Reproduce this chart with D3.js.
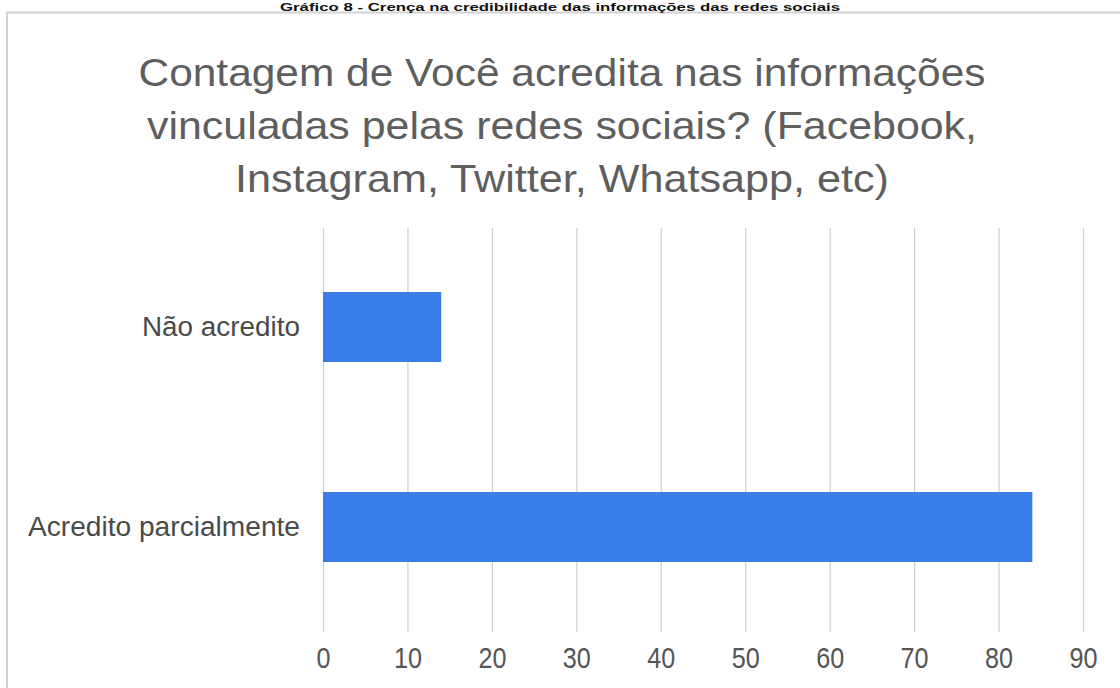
<!DOCTYPE html>
<html>
<head>
<meta charset="utf-8">
<script src="https://cdn.jsdelivr.net/npm/d3@7"></script>
<style>
  html, body { margin: 0; padding: 0; background: #ffffff; }
  svg { display: block; font-family: 'Liberation Sans', Arial, sans-serif; }
</style>
</head>
<body>
<svg id="chart"></svg>
<script>
(function() {
    'use strict';

    // Data
    const categories = ['Não acredito', 'Acredito parcialmente'];
    const counts = [14, 84];
    const tickValues = [0, 10, 20, 30, 40, 50, 60, 70, 80, 90];
    const caption = 'Gráfico 8 - Crença na credibilidade das informações das redes sociais';
    const titleLines = [
        'Contagem de Você acredita nas informações',
        'vinculadas pelas redes sociais? (Facebook,',
        'Instagram, Twitter, Whatsapp, etc)'
    ];

    const width = 1120, height = 688;
    const plot = { left: 323, right: 1083, top: 228, bottom: 632 };

    const svg = d3.select('#chart')
        .attr('width', width)
        .attr('height', height);

    // Chart frame
    svg.append('rect')
        .attr('x', 7)
        .attr('y', 12.5)
        .attr('width', width)
        .attr('height', height)
        .attr('fill', '#ffffff')
        .attr('stroke', '#d2d2d2')
        .attr('stroke-width', 2);

    // Caption above the frame
    svg.append('text')
        .attr('x', 560)
        .attr('y', 11)
        .attr('text-anchor', 'middle')
        .attr('font-size', '11px')
        .attr('font-weight', 'bold')
        .attr('fill', '#111')
        .attr('textLength', 560)
        .attr('lengthAdjust', 'spacingAndGlyphs')
        .text(caption);

    // Title
    const titleWidths = [847, 830, 654];
    svg.append('g')
        .selectAll('text')
        .data(titleLines)
        .join('text')
        .attr('x', 562)
        .attr('y', 86)
        .attr('dy', (d, i) => i * 53)
        .attr('text-anchor', 'middle')
        .attr('font-size', '39px')
        .attr('fill', '#5e5e5e')
        .attr('textLength', (d, i) => titleWidths[i])
        .attr('lengthAdjust', 'spacingAndGlyphs')
        .text(d => d);

    // Scales
    const xScale = d3.scaleLinear()
        .domain([0, 90])
        .range([plot.left, plot.right]);

    const yScale = d3.scaleBand()
        .domain(categories)
        .range([227, 627])
        .paddingInner(0.65)
        .paddingOuter(0.325);

    // X axis with gridlines
    const xAxis = svg.append('g')
        .attr('transform', `translate(0, ${plot.bottom})`)
        .call(d3.axisBottom(xScale)
            .tickValues(tickValues)
            .tickSize(-(plot.bottom - plot.top))
            .tickPadding(15));

    xAxis.select('.domain').remove();
    xAxis.selectAll('line')
        .attr('stroke', '#cfcfcf')
        .attr('stroke-width', 1.2);
    xAxis.selectAll('text')
        .attr('font-family', "'Liberation Sans', Arial, sans-serif")
        .attr('font-size', '30px')
        .attr('fill', '#555555')
        .attr('textLength', d => String(d).length * 14)
        .attr('lengthAdjust', 'spacingAndGlyphs');

    // Bars
    svg.append('g')
        .selectAll('rect')
        .data(categories)
        .join('rect')
        .attr('x', xScale(0))
        .attr('y', d => yScale(d))
        .attr('width', (d, i) => xScale(counts[i]) - xScale(0))
        .attr('height', yScale.bandwidth())
        .attr('fill', '#3b7de8');

    // Y axis labels
    const labelWidths = { 'Não acredito': 158, 'Acredito parcialmente': 272 };
    const yAxis = svg.append('g')
        .attr('transform', `translate(${plot.left}, 0)`)
        .call(d3.axisLeft(yScale).tickSize(0).tickPadding(23));

    yAxis.select('.domain').remove();
    yAxis.selectAll('text')
        .attr('font-family', "'Liberation Sans', Arial, sans-serif")
        .attr('font-size', '27px')
        .attr('fill', '#4a4a4a')
        .attr('textLength', d => labelWidths[d])
        .attr('lengthAdjust', 'spacingAndGlyphs');
})();
</script>
</body>
</html>
